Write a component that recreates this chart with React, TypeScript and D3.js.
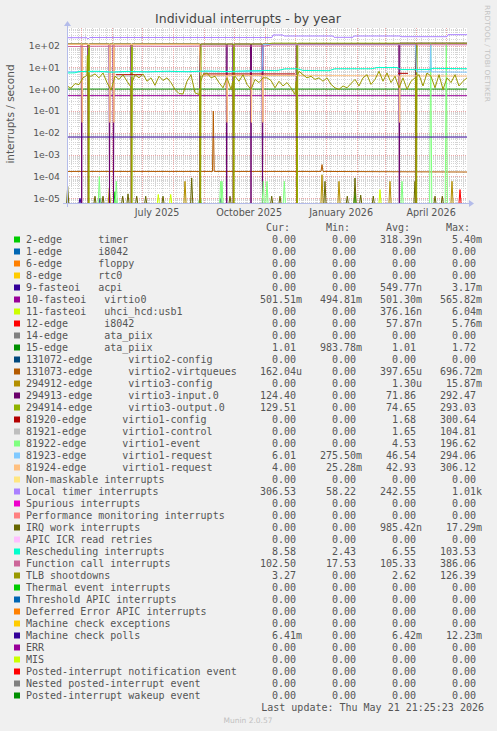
import React from 'react';
import * as d3 from 'd3';

type Pt = [number, number]; // [day offset from start, value]
type Run = [number, number, number]; // [fromDay, toDay, value]

const W = 497, H = 731;
const X0 = 67, X1 = 467, YT = 28, YB = 203;
const Y_E2 = 45.5, Y_E5 = 198.3;
const DAY = 86400000;
const END = Date.UTC(2026, 4, 21, 21, 25, 23);
const START = END - 400 * DAY;

const TITLE = 'Individual interrupts - by year';
const Y_TITLE = 'interrupts / second';
const yTickValues = [1e2, 1e1, 1e0, 1e-1, 1e-2, 1e-3, 1e-4, 1e-5];
const yTickLabels = ['1e+02', '1e+01', '1e+00', '1e-01', '1e-02', '1e-03', '1e-04', '1e-05'];
const xLabelMonths = ['2025-07-01', '2025-10-01', '2026-01-01', '2026-04-01'];
const xTickLabels = ['July 2025', 'October 2025', 'January 2026', 'April 2026'];

const legendLabels = [
  '2-edge      timer', '1-edge      i8042', '6-edge      floppy', '8-edge      rtc0',
  '9-fasteoi   acpi', '10-fasteoi   virtio0', '11-fasteoi   uhci_hcd:usb1', '12-edge      i8042',
  '14-edge      ata_piix', '15-edge      ata_piix', '131072-edge      virtio2-config',
  '131073-edge      virtio2-virtqueues', '294912-edge      virtio3-config',
  '294913-edge      virtio3-input.0', '294914-edge      virtio3-output.0',
  '81920-edge      virtio1-config', '81921-edge      virtio1-control', '81922-edge      virtio1-event',
  '81923-edge      virtio1-request', '81924-edge      virtio1-request', 'Non-maskable interrupts',
  'Local timer interrupts', 'Spurious interrupts', 'Performance monitoring interrupts',
  'IRQ work interrupts', 'APIC ICR read retries', 'Rescheduling interrupts', 'Function call interrupts',
  'TLB shootdowns', 'Thermal event interrupts', 'Threshold APIC interrupts',
  'Deferred Error APIC interrupts', 'Machine check exceptions', 'Machine check polls', 'ERR', 'MIS',
  'Posted-interrupt notification event', 'Nested posted-interrupt event', 'Posted-interrupt wakeup event',
];
const legendColors = [
  '#00CC00', '#0066B3', '#FF8000', '#FFCC00', '#330099', '#990099', '#CCFF00', '#FF0000', '#808080',
  '#008F00', '#00487D', '#B35A00', '#B38F00', '#6B006B', '#8FB300', '#B30000', '#BEBEBE', '#80FF80',
  '#80C9FF', '#FFC080', '#FFE680', '#AA80FF', '#EE00CC', '#FF8080', '#666600', '#FFBFFF', '#00FFCC',
  '#CC6699', '#999900', '#00CC00', '#0066B3', '#FF8000', '#FFCC00', '#330099', '#990099', '#CCFF00',
  '#FF0000', '#808080', '#008F00',
];
const Z = '0.00';
const curVals = [Z, Z, Z, Z, Z, '501.51m', Z, Z, Z, '1.01', Z, '162.04u', Z, '124.40', '129.51', Z, Z, Z,
  '6.01', '4.00', Z, '306.53', Z, Z, Z, Z, '8.58', '102.50', '3.27', Z, Z, Z, Z, '6.41m', Z, Z, Z, Z, Z];
const minVals = [Z, Z, Z, Z, Z, '494.81m', Z, Z, Z, '983.78m', Z, Z, Z, Z, Z, Z, Z, Z,
  '275.50m', '25.28m', Z, '58.22', Z, Z, Z, Z, '2.43', '17.53', Z, Z, Z, Z, Z, Z, Z, Z, Z, Z, Z];
const avgVals = ['318.39n', Z, Z, Z, '549.77n', '501.30m', '376.16n', '57.87n', Z, '1.01', Z, '397.65u',
  '1.30u', '71.86', '74.65', '1.68', '1.65', '4.53', '46.54', '42.93', Z, '242.55', Z, Z, '985.42n', Z,
  '6.55', '105.33', '2.62', Z, Z, Z, Z, '6.42m', Z, Z, Z, Z, Z];
const maxVals = ['5.40m', Z, Z, Z, '3.17m', '565.82m', '6.04m', '5.76m', Z, '1.72', Z, '696.72m', '15.87m',
  '292.47', '293.03', '300.64', '104.81', '196.62', '294.06', '306.12', Z, '1.01k', Z, Z, '17.29m', Z,
  '103.53', '386.06', '126.39', Z, Z, Z, Z, '12.23m', Z, Z, Z, Z, Z];

// ---- series (day offsets 0..400) ----
const inDropDays = [14.7, 21.3, 42.5, 46.5, 64.3, 133, 159.7, 166.3, 184, 195.5, 229.7, 332.3, 349];
const reqDropDays = [15.2, 42.9, 46.9, 160.1, 184.4, 195.9, 332.7];
const outDropDays = [21.9, 64.9, 133.6, 166.9, 230.3, 349.6];
const tlbDropDays = [21.3, 64.3, 133, 166.3, 229.7, 349];

const tlbEvery4Days = [
  1.4, 1.1, 1.8, 1.6, 3.3, 4.3, 3.9, 5.0, 3.3, 5.5, 2.0, 0.9, 3.9, 2.8, 4.6, 2.3, 1.2, 4.6, 3.3, 5.0,
  2.3, 3.3, 1.5, 3.9, 2.5, 3.3, 2.0, 0.97, 0.63, 0.6, 2.3, 4.6, 0.68, 0.57, 4.6, 5.5, 3.3, 3.9, 2.0, 1.15,
  3.3, 0.97, 3.9, 2.3, 4.6, 1.65, 0.97, 2.8, 2.0, 3.3,
  3.3, 2.5, 1.15, 2.3, 1.4, 2.0, 1.15, 0.57, 6.6, 4.6, 3.3, 3.9, 2.8, 3.3, 2.3, 3.3, 1.65, 1.15, 0.97, 1.4,
  1.15, 1.8, 2.8, 1.4, 3.3, 4.6, 1.65, 2.8, 6.6, 2.3, 5.5, 2.0, 3.9, 1.15, 3.3, 0.97, 2.3, 3.3, 4.6, 1.4,
  5.5, 3.9, 1.15, 4.6, 0.97, 3.3, 2.0, 4.6, 1.4, 2.3, 3.3,
];
const tlbSpikes: Pt[] = [[20.4, 35]];

const localTimer: Pt[] = [[0, 228], [20, 228], [21, 199], [22.5, 232], [205, 232], [206, 303], [216, 303],
  [217, 272], [266, 272], [267, 237], [286, 237], [287, 272], [333, 272], [334, 253], [380, 253], [381, 313], [400, 313]];
const resched: Pt[] = [[0, 5.5], [8, 5.6], [12, 6.4], [30, 6.6], [45, 6.0], [60, 6.5], [80, 6.2], [100, 6.6],
  [120, 6.3], [140, 6.8], [160, 6.4], [180, 6.9], [198, 7.2], [210, 7.0], [218, 8.5], [230, 8.6], [236, 7.2],
  [262, 7.0], [268, 8.6], [305, 8.6], [310, 9.8], [330, 9.8], [334, 7.9], [362, 7.9], [366, 9.0], [400, 8.6]];
const funcCall: Pt[] = [[0, 90], [20, 90], [21, 80], [22.5, 92], [60, 94], [100, 92], [150, 95], [198, 95],
  [205, 108], [400, 108]];
const virtio3Out: Pt[] = [[0, 117], [200, 117], [205, 128], [400, 128]];
const virtio3In: Pt[] = [[0, 117], [228, 117], [231, 120], [330, 120], [333, 128], [400, 128]];
const virtio1Req24: Pt[] = [[0, 112], [132.5, 112], [133.5, 4.3], [400, 4.0]];
const virtio1Req24Dip = 0.03;
const virtio1Req23: Pt[] = [[0, 6.3], [195, 6.3], [196, 110], [348.5, 110], [349.5, 6.2], [363, 6.2],
  [363.7, 110], [364.4, 6.2], [400, 6.0]];
const virtio1Cfg: Run[] = [[49, 76, 4.6], [136, 228, 5.0], [331, 341, 5.3]];
const virtio1Ctl: Run[] = [[49, 76, 4.0], [136, 228, 4.1]];
const virtio0: Pt[] = [[0, 0.505], [400, 0.502]];
const ata15: Pt[] = [[0, 1.01], [400, 1.01]];
const mcPolls: Pt[] = [[0, 0.0064], [400, 0.0064]];
const virtqueues: Pt[] = [[0, 1.7e-4], [145.5, 1.7e-4], [146.3, 0.1], [147.2, 1.7e-4], [254, 1.7e-4],
  [255, 3.5e-4], [256, 1.7e-4], [400, 1.6e-4]];

const timerSpikes: Pt[] = [[48, 2e-5], [133, 1.5e-5], [288, 2e-5]];
const acpiSpikes: Pt[] = [[13, 1e-5], [33, 1e-5], [154, 1e-5]];
const usbSpikes: Pt[] = [[91.3, 1.5e-5], [103.7, 1.5e-5], [313, 2.5e-5]];
const i8042Spikes: Pt[] = [[393, 2.5e-5]];
const virtio3CfgSpikes: Pt[] = [[42.3, 3e-5], [118, 6e-5], [255, 1.2e-4], [272, 6e-5], [323, 6e-5], [385, 6e-5]];
const virtio1EvtSpikes: Pt[] = [[32.3, 1e-4], [49.3, 6e-5], [153.7, 6e-5], [155, 6e-5], [196.3, 6e-5],
  [200, 6e-5], [217.3, 6e-5], [335, 6e-5], [363.7, 120], [379.3, 120]];
const irqWorkSpikes: Pt[] = [[0.7, 3.5e-5], [28, 1.25e-5], [36, 1.25e-5], [55.7, 1.25e-5], [61, 1.6e-5],
  [69.7, 1.25e-5], [78.7, 1.25e-5], [96, 1.25e-5], [124.7, 8.5e-5], [163, 1.25e-5], [204.7, 1.25e-5],
  [213, 1.25e-5], [258, 6e-5], [280.3, 1.25e-5], [288, 8.5e-5], [293.7, 1.4e-5], [306.3, 1.25e-5],
  [348, 6e-5], [368, 1.25e-5], [375.3, 1.25e-5]];

// ---- helpers ----
function interp(pts: Pt[], d: number): number {
  if (d <= pts[0][0]) return pts[0][1];
  for (let i = 0; i < pts.length - 1; i++) {
    const a = pts[i], b = pts[i + 1];
    if (d >= a[0] && d <= b[0]) {
      const t = b[0] === a[0] ? 0 : (d - a[0]) / (b[0] - a[0]);
      return a[1] + t * (b[1] - a[1]);
    }
  }
  return pts[pts.length - 1][1];
}
function withEvents(base: Pt[], spikes: Pt[], drops: number[], dropTo = 0, w = 0.5): Pt[] {
  const events: Pt[] = [...spikes, ...drops.map((d) => [d, dropTo] as Pt)];
  const keep = base.filter((p) => !events.some((e) => Math.abs(p[0] - e[0]) < w));
  const add: Pt[] = [];
  for (const [d, v] of events) {
    add.push([d - w, interp(base, d - w)], [d, v], [d + w, interp(base, d + w)]);
  }
  return [...keep, ...add].sort((a, b) => a[0] - b[0]);
}

export default function App() {
  const x = d3.scaleUtc().domain([new Date(START), new Date(END)]).range([X0, X1]);
  const yLog = d3.scaleLog().domain([1e-5, 1e2]).range([Y_E5, Y_E2]);
  const yv = (v: number) => (v <= 0 ? YB + 1 : Math.max(YT, Math.min(YB + 1, yLog(v))));
  const xd = (d: number) => x(new Date(START + d * DAY));
  const line = d3.line<Pt>().x((p) => xd(p[0])).y((p) => yv(p[1]));
  const spikePaths = (sp: Pt[]) => sp.map(([d, v]) => line([[d - 1.1, 0], [d, v], [d + 1.1, 0]]) as string);
  const runPaths = (rs: Run[]) => rs.map(([a, b, v]) => line([[a, v], [b, v]]) as string);

  const tlbBase: Pt[] = tlbEvery4Days.map((v, i) => [i * 4, v]);

  const seriesPaths: Record<number, string[]> = {
    0: spikePaths(timerSpikes),
    4: spikePaths(acpiSpikes),
    5: [line(virtio0) as string],
    6: spikePaths(usbSpikes),
    7: spikePaths(i8042Spikes),
    9: [line(ata15) as string],
    11: [line(virtqueues) as string],
    12: spikePaths(virtio3CfgSpikes),
    13: [line(withEvents(virtio3In, [], inDropDays)) as string],
    14: [line(withEvents(virtio3Out, [], outDropDays)) as string],
    15: runPaths(virtio1Cfg),
    16: runPaths(virtio1Ctl),
    17: spikePaths(virtio1EvtSpikes),
    18: [line(virtio1Req23) as string],
    19: [line(withEvents(virtio1Req24, [], reqDropDays, virtio1Req24Dip)) as string],
    21: [line(localTimer) as string],
    24: spikePaths(irqWorkSpikes),
    26: [line(resched) as string],
    27: [line(funcCall) as string],
    28: [line(withEvents(tlbBase, tlbSpikes, tlbDropDays)) as string],
    33: [line(mcPolls) as string],
  };

  // grid
  const px = (v: number) => Math.round(v) + 0.5;
  const weeks = d3.utcMonday.range(new Date(START), new Date(END));
  const months = d3.utcMonth.range(new Date(START), new Date(END));
  const vMin = yLog.invert(YB), vMax = yLog.invert(YT);
  const hMinor: number[] = [], hMajor: number[] = [];
  for (let e = -6; e <= 3; e++) {
    for (let k = 1; k <= 9; k++) {
      const v = k * Math.pow(10, e);
      if (v < vMin || v > vMax) continue;
      (k === 1 ? hMajor : hMinor).push(v);
    }
  }
  const gridGray = '#D4D4D4';
  const gridRed = '#EBA8A8';
  const axisCol = '#B4BCEA';
  const sans = '"DejaVu Sans", Verdana, sans-serif';
  const mono = '"DejaVu Sans Mono", monospace';
  const textCol = '#555555';

  const legTop = 243;
  const colEnds = [296, 356, 416, 476];
  const splitVal = (s: string) => {
    const m = s.match(/^([0-9.]+)([a-zA-Z]?)$/);
    return m ? [m[1], m[2]] : [s, ''];
  };

  return (
    <svg width={W} height={H} viewBox={`0 0 ${W} ${H}`}
      style={{ position: 'absolute', left: 0, top: 0, display: 'block' }}>
      <rect x={0} y={0} width={W} height={H} fill="#F0F0F0" />
      <rect x={X0} y={YT} width={X1 - X0} height={YB - YT} fill="#FFFFFF" />

      {/* grid */}
      <g strokeWidth={1} strokeDasharray="1,1" fill="none">
        {hMinor.map((v, i) => (
          <line key={'hm' + i} x1={X0} x2={X1} y1={px(yLog(v))} y2={px(yLog(v))} stroke={gridGray} />
        ))}
        {weeks.map((d, i) => (
          <line key={'vw' + i} x1={px(x(d))} x2={px(x(d))} y1={YT} y2={YB} stroke={gridGray} />
        ))}
        {hMajor.map((v, i) => (
          <line key={'hM' + i} x1={X0} x2={X1} y1={px(yLog(v))} y2={px(yLog(v))} stroke={gridRed} />
        ))}
        {months.map((d, i) => (
          <line key={'vM' + i} x1={px(x(d))} x2={px(x(d))} y1={YT} y2={YB} stroke={gridRed} />
        ))}
      </g>

      {/* series in legend order */}
      <g fill="none" strokeWidth={1} strokeLinejoin="round">
        {legendColors.map((c, i) =>
          (seriesPaths[i] || []).map((d, j) => <path key={`s${i}-${j}`} d={d} stroke={c} />)
        )}
      </g>

      {/* axes */}
      <g>
        <line x1={X0 - 4} x2={X1 + 4} y1={YB + 0.5} y2={YB + 0.5} stroke={axisCol} strokeWidth={1} />
        <line x1={X0 + 0.5} x2={X0 + 0.5} y1={YB + 4} y2={YT - 4} stroke={axisCol} strokeWidth={1} />
        <polygon points={`${X1 + 2},${YB - 3} ${X1 + 2},${YB + 4} ${X1 + 7},${YB + 0.5}`} fill={axisCol} />
        <polygon points={`${X0 - 3},${YT - 2} ${X0 + 4},${YT - 2} ${X0 + 0.5},${YT - 7}`} fill={axisCol} />
      </g>

      {/* y tick labels */}
      <g fontFamily={sans} fontSize={9.3} fill={textCol} textAnchor="end">
        {yTickValues.map((v, i) => (
          <text key={'yl' + i} x={60} y={yLog(v) + 3.4}>{yTickLabels[i]}</text>
        ))}
      </g>
      {/* x labels */}
      <g fontFamily={sans} fontSize={9.6} fill={textCol} textAnchor="middle">
        {xLabelMonths.map((m, i) => {
          const t = new Date(m + 'T00:00:00Z').getTime() + 15 * DAY;
          return <text key={'xl' + i} x={x(new Date(t))} y={215.5}>{xTickLabels[i]}</text>;
        })}
      </g>

      {/* titles */}
      <text x={248} y={23} fontFamily={sans} fontSize={12.5} fill="#444444" textAnchor="middle">{TITLE}</text>
      <text transform="translate(14,114) rotate(-90)" fontFamily={sans} fontSize={10.5} fill={textCol}
        textAnchor="middle">{Y_TITLE}</text>
      <text transform="translate(485,5) rotate(90)" fontFamily={sans} fontSize={7} fill="#C4C4C4"
        textLength={97} lengthAdjust="spacingAndGlyphs">RRDTOOL / TOBI OETIKER</text>

      {/* legend */}
      <g fontFamily={mono} fontSize={10} fill={textCol} style={{ whiteSpace: 'pre' }}>
        <text x={290} y={legTop - 12} textAnchor="end">Cur:</text>
        <text x={350} y={legTop - 12} textAnchor="end">Min:</text>
        <text x={410} y={legTop - 12} textAnchor="end">Avg:</text>
        <text x={470} y={legTop - 12} textAnchor="end">Max:</text>
        {legendLabels.map((lab, i) => {
          const yb = legTop + i * 12;
          const vals = [curVals[i], minVals[i], avgVals[i], maxVals[i]];
          return (
            <g key={'lg' + i}>
              <rect x={14} y={yb - 6.5} width={6} height={6} fill={legendColors[i]} />
              <text x={26} y={yb} style={{ whiteSpace: 'pre' }}>{lab}</text>
              {vals.map((s, k) => {
                const [n, u] = splitVal(s);
                return (
                  <g key={k}>
                    <text x={colEnds[k]} y={yb} textAnchor="end">{n}</text>
                    {u ? <text x={colEnds[k]} y={yb}>{u}</text> : null}
                  </g>
                );
              })}
            </g>
          );
        })}
        <text x={484} y={711} textAnchor="end" style={{ whiteSpace: 'pre' }}>Last update: Thu May 21 21:25:23 2026</text>
      </g>
      <text x={248} y={723} fontFamily={sans} fontSize={7.5} fill="#C0C0C0" textAnchor="middle">Munin 2.0.57</text>
    </svg>
  );
}
